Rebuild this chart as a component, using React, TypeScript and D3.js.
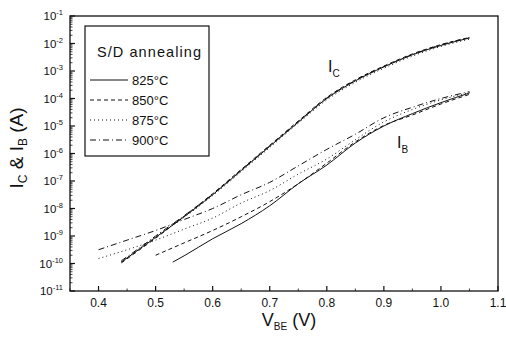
import * as d3 from 'd3'

// V_BE sweep points (V) and log10 of the currents (A)
const vIC = [0.44, 0.47, 0.5, 0.55, 0.6, 0.65, 0.7, 0.75, 0.8, 0.85, 0.9, 0.95, 1.0, 1.05]
const ic825 = [-9.95, -9.5, -9.05, -8.3, -7.5, -6.62, -5.74, -4.86, -4.0, -3.36, -2.85, -2.41, -2.07, -1.8]
const ic850 = [-9.98, -9.53, -9.08, -8.28, -7.46, -6.58, -5.7, -4.82, -3.96, -3.32, -2.82, -2.38, -2.04, -1.78]
const ic875 = [-9.93, -9.48, -9.02, -8.32, -7.53, -6.66, -5.78, -4.9, -4.05, -3.41, -2.9, -2.46, -2.11, -1.84]
const ic900 = [-9.9, -9.46, -9.0, -8.26, -7.48, -6.6, -5.72, -4.84, -3.98, -3.34, -2.84, -2.4, -2.05, -1.79]

const vIB825 = [0.53, 0.55, 0.6, 0.65, 0.7, 0.75, 0.8, 0.85, 0.9, 0.95, 1.0, 1.05]
const ib825 = [-9.95, -9.72, -9.1, -8.55, -7.9, -7.1, -6.42, -5.62, -5.0, -4.55, -4.15, -3.8]
const vIB850 = [0.5, 0.55, 0.6, 0.65, 0.7, 0.75, 0.8, 0.85, 0.9, 0.95, 1.0, 1.05]
const ib850 = [-9.7, -9.25, -8.8, -8.3, -7.75, -7.1, -6.35, -5.58, -4.98, -4.6, -4.2, -3.85]
const vIB875 = [0.4, 0.45, 0.5, 0.55, 0.6, 0.65, 0.7, 0.75, 0.8, 0.85, 0.9, 0.95, 1.0, 1.05]
const ib875 = [-9.82, -9.5, -9.15, -8.75, -8.35, -7.8, -7.35, -6.75, -6.2, -5.5, -4.85, -4.4, -4.05, -3.78]
const vIB900 = [0.4, 0.45, 0.5, 0.55, 0.6, 0.65, 0.7, 0.75, 0.8, 0.85, 0.9, 0.95, 1.0, 1.05]
const ib900 = [-9.5, -9.15, -8.8, -8.4, -8.0, -7.5, -7.05, -6.45, -5.85, -5.3, -4.7, -4.32, -4.0, -3.75]

const legendLabels = ['825°C', '850°C', '875°C', '900°C']
const xTicks = [0.4, 0.5, 0.6, 0.7, 0.8, 0.9, 1.0, 1.1]
const yExps = [-11, -10, -9, -8, -7, -6, -5, -4, -3, -2, -1]

const dashes = ['none', '4,3', '1,3', '6,3,1,3']
const ink = '#111'

export default function App() {
  const W = 506
  const H = 337
  const x = d3.scaleLinear().domain([0.35, 1.1]).range([70, 498])
  const y = d3.scaleLog().domain([1e-11, 1e-1]).range([291, 16])

  const line = d3.line<[number, number]>()
    .x(d => x(d[0]))
    .y(d => y(Math.pow(10, d[1])))
    .curve(d3.curveMonotoneX)

  const zip = (vs: number[], ls: number[]) => vs.map((v, i) => [v, ls[i]] as [number, number])

  const series = [
    { ic: zip(vIC, ic825), ib: zip(vIB825, ib825) },
    { ic: zip(vIC, ic850), ib: zip(vIB850, ib850) },
    { ic: zip(vIC, ic875), ib: zip(vIB875, ib875) },
    { ic: zip(vIC, ic900), ib: zip(vIB900, ib900) },
  ]

  const [x0, x1] = x.range()
  const [yb, yt] = y.range()

  // minor ticks
  const yMinor: number[] = []
  for (let e = -11; e < -1; e++) {
    for (let k = 2; k <= 9; k++) yMinor.push(k * Math.pow(10, e))
  }
  const xMinor = d3.range(0.35, 1.1001, 0.05).filter(v => !xTicks.some(t => Math.abs(t - v) < 1e-6))

  return (
    <svg width={W} height={H} style={{ position: 'absolute', left: 0, top: 0, background: '#fff' }}
      fontFamily="'Liberation Sans', Arial, sans-serif" fill={ink}>
      {/* frame */}
      <rect x={x0} y={yt} width={x1 - x0} height={yb - yt} fill="none" stroke={ink} strokeWidth={1.3} />

      {/* y ticks */}
      {yExps.map(e => (
        <g key={e}>
          <line x1={x0} x2={x0 + 5} y1={y(Math.pow(10, e))} y2={y(Math.pow(10, e))} stroke={ink} strokeWidth={1.2} />
          <text x={63} y={y(Math.pow(10, e)) + 4} textAnchor="end" fontSize={11.5}>
            <tspan>10</tspan>
            <tspan dy={-5} fontSize={7.5}>{e}</tspan>
          </text>
        </g>
      ))}
      {yMinor.map((v, i) => (
        <line key={i} x1={x0} x2={x0 + 2.5} y1={y(v)} y2={y(v)} stroke={ink} strokeWidth={0.8} />
      ))}

      {/* x ticks */}
      {xTicks.map(t => (
        <g key={t}>
          <line x1={x(t)} x2={x(t)} y1={yb} y2={yb - 5} stroke={ink} strokeWidth={1.2} />
          <text x={x(t)} y={307} textAnchor="middle" fontSize={12}>{t.toFixed(1)}</text>
        </g>
      ))}
      {xMinor.map((v, i) => (
        <line key={i} x1={x(v)} x2={x(v)} y1={yb} y2={yb - 2.5} stroke={ink} strokeWidth={0.8} />
      ))}

      {/* curves */}
      {series.map((s, i) => (
        <g key={i} fill="none" stroke={ink} strokeWidth={1} strokeDasharray={dashes[i]}>
          <path d={line(s.ic) ?? ''} />
          <path d={line(s.ib) ?? ''} />
        </g>
      ))}

      {/* curve labels */}
      <text x={328} y={72} fontSize={16}>I<tspan dy={5} fontSize={10}>C</tspan></text>
      <text x={397} y={148} fontSize={16}>I<tspan dy={5} fontSize={10}>B</tspan></text>

      {/* legend */}
      <rect x={85} y={26} width={124} height={130} fill="#fff" stroke={ink} strokeWidth={1.2} />
      <text x={97} y={57} fontSize={14.5} textLength={104} lengthAdjust="spacing">S/D annealing</text>
      {legendLabels.map((lab, i) => (
        <g key={lab}>
          <line x1={90} x2={128} y1={80 + i * 20} y2={80 + i * 20} stroke={ink} strokeWidth={1}
            strokeDasharray={dashes[i]} />
          <text x={132} y={85 + i * 20} fontSize={13}>{lab}</text>
        </g>
      ))}

      {/* axis titles */}
      <text x={289} y={326} textAnchor="middle" fontSize={18}>
        V<tspan dy={4} fontSize={10}>BE</tspan><tspan dy={-4}> (V)</tspan>
      </text>
      <text transform="translate(23,148) rotate(-90)" textAnchor="middle" fontSize={19}>
        I<tspan dy={4} fontSize={12}>C</tspan><tspan dy={-4}> &amp; I</tspan><tspan dy={4} fontSize={12}>B</tspan><tspan dy={-4}> (A)</tspan>
      </text>
    </svg>
  )
}
